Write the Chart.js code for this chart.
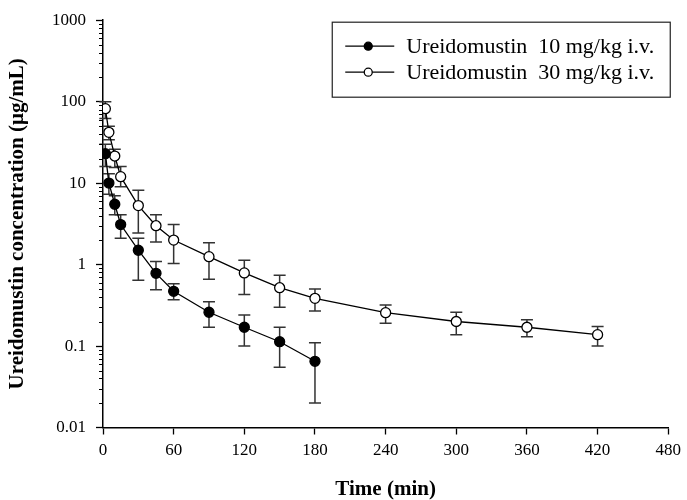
<!DOCTYPE html>
<html>
<head>
<meta charset="utf-8">
<script src="https://cdn.jsdelivr.net/npm/chart.js@4"></script>
<style>
  html, body { margin: 0; padding: 0; background: #fff; }
  #box { width: 687px; height: 500px; }
</style>
</head>
<body>
<div id="box"><canvas id="graphe"></canvas></div>
<script>
// valeurs
var temps10 = [2, 5, 10, 15, 30, 45, 60, 90, 120, 150, 180];
var moy10 = [23, 10, 5.5, 3.1, 1.5, 0.78, 0.47, 0.26, 0.17, 0.113, 0.065];
var haut10 = [30, 13, 7.0, 4.1, 2.1, 1.09, 0.58, 0.35, 0.24, 0.17, 0.11];
var bas10 = [16, 7.3, 4.1, 2.1, 0.64, 0.49, 0.37, 0.17, 0.10, 0.055, 0.02];

var temps30 = [2, 5, 10, 15, 30, 45, 60, 90, 120, 150, 180, 240, 300, 360, 420];
var moy30 = [82, 42, 21.5, 12, 5.3, 3.0, 2.0, 1.25, 0.79, 0.52, 0.385, 0.257, 0.2, 0.17, 0.138];
var haut30 = [100, 50, 26, 16, 8.2, 4.1, 3.1, 1.86, 1.13, 0.74, 0.50, 0.32, 0.26, 0.21, 0.174];
var bas30 = [62, 34, 15.6, 9, 2.45, 1.89, 1.03, 0.66, 0.43, 0.30, 0.27, 0.19, 0.138, 0.13, 0.10];

var labels = ["Ureidomustin  10 mg/kg i.v.", "Ureidomustin  30 mg/kg i.v."];
var yTicks = [0.01, 0.1, 1, 10, 100, 1000];
var xTicks = [0, 60, 120, 180, 240, 300, 360, 420, 480];

var police = "'Liberation Serif', 'Times New Roman', serif";

function points(x, y) {
  var res = [];
  for (var i = 0; i < x.length; i++) res.push({ x: x[i], y: y[i] });
  return res;
}

var barres = [
  { haut: haut10, bas: bas10, x: temps10 },
  { haut: haut30, bas: bas30, x: temps30 }
];

// barres d'erreur + petites graduations
var pluginErreur = {
  id: "erreur",
  beforeDatasetsDraw: function (chart) {
    var ctx = chart.ctx;
    var sx = chart.scales.x, sy = chart.scales.y;
    ctx.save();
    ctx.strokeStyle = "#333";
    ctx.lineWidth = 1.5;
    for (var d = 0; d < barres.length; d++) {
      var b = barres[d];
      for (var i = 0; i < b.x.length; i++) {
        var px = sx.getPixelForValue(b.x[i]);
        var y1 = sy.getPixelForValue(b.haut[i]);
        var y2 = sy.getPixelForValue(b.bas[i]);
        ctx.beginPath();
        ctx.moveTo(px, y1); ctx.lineTo(px, y2);
        ctx.moveTo(px - 6, y1); ctx.lineTo(px + 6, y1);
        ctx.moveTo(px - 6, y2); ctx.lineTo(px + 6, y2);
        ctx.stroke();
      }
    }
    ctx.restore();
  },
  afterDraw: function (chart) {
    var ctx = chart.ctx;
    var sy = chart.scales.y;
    var area = chart.chartArea;
    ctx.save();
    ctx.strokeStyle = "#000";
    ctx.lineWidth = 1;
    ctx.beginPath();
    for (var t = 0; t < yTicks.length - 1; t++) {
      for (var k = 2; k <= 9; k++) {
        var py = Math.round(sy.getPixelForValue(yTicks[t] * k)) + 0.5;
        ctx.moveTo(area.left - 4, py);
        ctx.lineTo(area.left, py);
      }
    }
    ctx.stroke();

    // legende
    var gauche = area.right - 336, haut = area.top + 2;
    ctx.strokeStyle = "#222";
    ctx.lineWidth = 1.2;
    ctx.strokeRect(gauche, haut, 338, 75);
    ctx.font = "22px " + police;
    ctx.textBaseline = "middle";
    for (var j = 0; j < chart.data.datasets.length; j++) {
      var ds = chart.data.datasets[j];
      var ly = haut + 24 + j * 26;
      ctx.strokeStyle = "#000";
      ctx.lineWidth = 1.3;
      ctx.beginPath();
      ctx.moveTo(gauche + 13, ly); ctx.lineTo(gauche + 62, ly);
      ctx.stroke();
      ctx.beginPath();
      ctx.arc(gauche + 36, ly, 4, 0, Math.PI * 2);
      ctx.fillStyle = ds.pointBackgroundColor;
      ctx.fill();
      ctx.stroke();
      ctx.fillStyle = "#000";
      ctx.fillText(ds.label, gauche + 74, ly + 1);
    }
    ctx.restore();
  }
};

var ctx = document.getElementById("graphe");
var chart = new Chart(ctx, {
  type: "line",
  data: {
    datasets: [
      {
        label: labels[0],
        data: points(temps10, moy10),
        borderColor: "#000",
        borderWidth: 1.3,
        pointRadius: 5,
        pointBorderWidth: 1.3,
        pointBorderColor: "#000",
        pointBackgroundColor: "#000",
        order: 1
      },
      {
        label: labels[1],
        data: points(temps30, moy30),
        borderColor: "#000",
        borderWidth: 1.3,
        pointRadius: 5,
        pointBorderWidth: 1.3,
        pointBorderColor: "#000",
        pointBackgroundColor: "#fff",
        order: 2
      }
    ]
  },
  options: {
    responsive: true,
    maintainAspectRatio: false,
    animation: false,
    layout: { padding: { top: 20, right: 17, left: 0, bottom: 0 } },
    plugins: { legend: { display: false }, tooltip: { enabled: false } },
    scales: {
      x: {
        type: "linear",
        min: 0, max: 480,
        afterBuildTicks: function (s) { s.ticks = xTicks.map(function (v) { return { value: v }; }); },
        afterFit: function (s) { s.height = 72.5; },
        grid: { drawOnChartArea: false, tickLength: 7, tickColor: "#000", tickWidth: 1.3 },
        border: { color: "#000", width: 1.5 },
        ticks: { color: "#000", padding: 6, font: { family: police, size: 17 }, autoSkip: false, maxRotation: 0 },
        title: {
          display: true, text: "Time (min)", color: "#000",
          font: { family: police, size: 21, weight: "bold", lineHeight: 1 },
          padding: { top: 0, bottom: 0 }
        }
      },
      y: {
        type: "logarithmic",
        min: 0.01, max: 1000,
        afterBuildTicks: function (s) { s.ticks = yTicks.map(function (v) { return { value: v }; }); },
        afterFit: function (s) { s.width = 103; },
        grid: { drawOnChartArea: false, tickLength: 7, tickColor: "#000", tickWidth: 1.3 },
        border: { color: "#000", width: 1.5 },
        ticks: {
          color: "#000", padding: 10, font: { family: police, size: 17 }, autoSkip: false,
          callback: function (v) { return String(v); }
        },
        title: {
          display: true, text: "Ureidomustin concentration (μg/mL)", color: "#000",
          font: { family: police, size: 21, weight: "bold", lineHeight: 1 },
          padding: { top: 7, bottom: 0 }
        }
      }
    }
  },
  plugins: [pluginErreur]
});
</script>
</body>
</html>
